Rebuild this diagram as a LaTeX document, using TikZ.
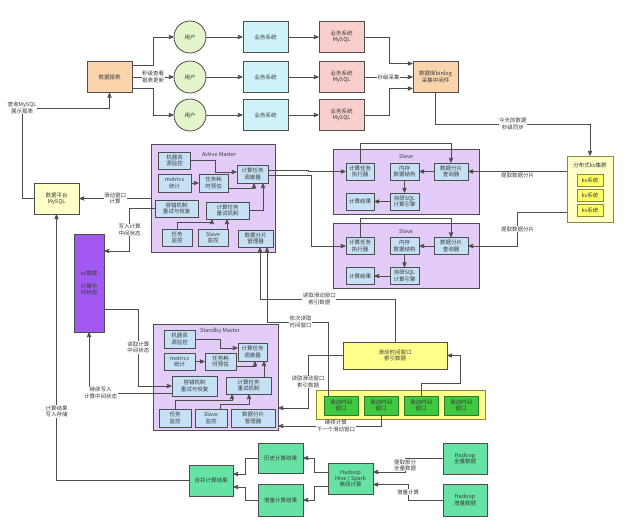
\documentclass[tikz,border=0pt]{standalone}
\usepackage{fontspec}
\setmainfont{Noto Sans CJK SC}
\usetikzlibrary{arrows}
\definecolor{linegray}{HTML}{4D4D4D}
\definecolor{txtgray}{HTML}{3A3A3A}
\definecolor{peach}{HTML}{FAD4AC}
\definecolor{usergreen}{HTML}{E4F5CB}
\definecolor{bizcyan}{HTML}{CDF3F8}
\definecolor{dbpink}{HTML}{F8CFCD}
\definecolor{lavender}{HTML}{E3CCF7}
\definecolor{innerblue}{HTML}{C6E1F6}
\definecolor{zkpurple}{HTML}{A259F2}
\definecolor{paleyellow}{HTML}{FFFFC8}
\definecolor{kvyellow}{HTML}{FFFF66}
\definecolor{olive}{HTML}{8A8A3A}
\definecolor{winyellow}{HTML}{FFFF8C}
\definecolor{wingreen}{HTML}{3EC93E}
\definecolor{wingreenline}{HTML}{2E7D2E}
\definecolor{mint}{HTML}{66E3A4}
\newcommand\fs{\fontsize{5.5}{6.3}\selectfont}

\begin{document}
\begin{tikzpicture}[x=1pt, y=-1pt, >=stealth', line width=0.8pt, draw=linegray,
    every node/.style={font=\fs, text=txtgray, align=center, inner sep=1pt},
    bx/.style 2 args={rectangle, draw=linegray, minimum width=#1pt, minimum height=#2pt},
    ib/.style 2 args={bx={#1}{#2}, fill=innerblue},
    user/.style={circle, draw=linegray, fill=usergreen, minimum size=32pt},
    win/.style={bx={34}{19}, fill=wingreen, draw=wingreenline},
    kvbox/.style={bx={26}{12}, fill=kvyellow, draw=olive},
    lbl/.style={fill=white, inner sep=0.5pt}]
    \useasboundingbox[fill=white] (0,0) rectangle (640,530);

    %define the top row
    \node[bx={45}{31}, fill=peach] (report) at (109.5,77) {数据报表};
    \node[user] (user1) at (190,37) {用户};
    \node[user] (user2) at (190,77) {用户};
    \node[user] (user3) at (190,115) {用户};
    \node[bx={45}{31}, fill=bizcyan] (biz1) at (265.5,37) {业务系统};
    \node[bx={45}{31}, fill=bizcyan] (biz2) at (265.5,77) {业务系统};
    \node[bx={45}{31}, fill=bizcyan] (biz3) at (265.5,115) {业务系统};
    \node[bx={45}{31}, fill=dbpink] (db1) at (341.5,37) {业务系统\\MySQL};
    \node[bx={45}{31}, fill=dbpink] (db2) at (341.5,77) {业务系统\\MySQL};
    \node[bx={45}{31}, fill=dbpink] (db3) at (341.5,115) {业务系统\\MySQL};
    \node[bx={45}{31}, fill=peach] (binlog) at (435.5,77) {数据库binlog\\采集中间件};

    %define the kv cluster
    \node[bx={46}{66}, fill=paleyellow, draw=olive] (kvc) at (590,189) {};
    \node at (590,165) {分布式kv集群};
    \node[kvbox] (kv1) at (590,180) {kv系统};
    \node[kvbox] (kv2) at (590,195) {kv系统};
    \node[kvbox] (kv3) at (590,210) {kv系统};

    %define the slaves
    \node[bx={146}{65}, fill=lavender] (slave1) at (406,181.5) {};
    \node at (406,156) {Slave};
    \node[ib={28}{17}] (exec1) at (360,171.5) {计算任务\\执行器};
    \node[ib={29}{17}] (mem1) at (404.5,171.5) {内存\\数据结构};
    \node[ib={34}{17}] (query1) at (451,171.5) {数据分片\\查询器};
    \node[ib={28}{17}] (result1) at (360,201.5) {计算结果};
    \node[ib={29}{17}] (sql1) at (404.5,201.5) {自研SQL\\计算引擎};
    \node[bx={146}{65}, fill=lavender] (slave2) at (406,256) {};
    \node at (406,231) {Slave};
    \node[ib={28}{17}] (exec2) at (360,246) {计算任务\\执行器};
    \node[ib={29}{17}] (mem2) at (404.5,246) {内存\\数据结构};
    \node[ib={34}{17}] (query2) at (451,246) {数据分片\\查询器};
    \node[ib={28}{17}] (result2) at (360,276) {计算结果};
    \node[ib={29}{17}] (sql2) at (404.5,276) {自研SQL\\计算引擎};

    %define the active master
    \node[bx={124}{108}, fill=lavender] (am) at (213,198) {};
    \node at (219,154) {Active Master};
    \node[ib={32}{17}] (am_res) at (174.5,160.5) {机器资\\源监控};
    \node[ib={33}{18}] (am_met) at (174.5,183) {metrics\\统计};
    \node[ib={29}{18}] (am_est) at (213.5,183) {任务耗\\时预估};
    \node[ib={31}{18}] (am_sch) at (252.5,174) {计算任务\\调度器};
    \node[ib={43}{17}] (am_ft) at (176.5,208.5) {容错机制\\重试与恢复};
    \node[ib={43}{17}] (am_rt) at (227.5,210.5) {计算任务\\重试机制};
    \node[ib={30}{17}] (am_tm) at (177,237.5) {任务\\监控};
    \node[ib={30}{17}] (am_sm) at (213,237.5) {Slave\\监控};
    \node[ib={35}{17}] (am_sh) at (255.5,238.5) {数据分片\\管理器};

    %define the standby master
    \node[bx={125}{106}, fill=lavender] (sb) at (215.5,377) {};
    \node at (220,331) {Standby Master};
    \node[ib={31}{18}] (sb_res) at (179.5,339) {机器资\\源监控};
    \node[ib={31}{17}] (sb_met) at (179.5,361.5) {metrics\\统计};
    \node[ib={31}{17}] (sb_est) at (220.5,361.5) {任务耗\\时预估};
    \node[ib={29}{18}] (sb_sch) at (252.5,352) {计算任务\\调度器};
    \node[ib={45}{20}] (sb_ft) at (194.5,386) {容错机制\\重试与恢复};
    \node[ib={45}{17}] (sb_rt) at (248.5,385.5) {计算任务\\重试机制};
    \node[ib={32}{18}] (sb_tm) at (175,418) {任务\\监控};
    \node[ib={32}{18}] (sb_sm) at (211,418) {Slave\\监控};
    \node[ib={44}{18}] (sb_sh) at (253,418) {数据分片\\管理器};

    %define the left side
    \node[bx={45}{31}, fill=paleyellow] (platform) at (56.5,198.5) {数据平台\\MySQL};
    \node[bx={30}{98}, fill=zkpurple] (zk) at (89,283) {zk集群\\[6pt]计算中\\间状态};

    %define the sliding windows
    \node[bx={104}{27}, fill=winyellow] (idx) at (395,355.5) {滑动时间窗口\\索引数据};
    \node[bx={169}{29}, fill=winyellow, draw=olive] (wc) at (400.5,404.5) {};
    \node[win] (w1) at (341,405.5) {滑动时间\\窗口};
    \node[win] (w2) at (381,405.5) {滑动时间\\窗口};
    \node[win] (w3) at (421,405.5) {滑动时间\\窗口};
    \node[win] (w4) at (461,405.5) {滑动时间\\窗口};

    %define the offline part
    \node[bx={45}{30}, fill=mint] (hist) at (280.5,458) {历史计算结果};
    \node[bx={45}{32}, fill=mint] (incr) at (280.5,500) {增量计算结果};
    \node[bx={44}{31}, fill=mint] (merge) at (211,480.5) {合并计算结果};
    \node[bx={45}{31}, fill=mint] (hive) at (350.5,478.5) {Hadoop\\Hive / Spark\\离线计算};
    \node[bx={44}{31}, fill=mint] (hfull) at (465,458.5) {Hadoop\\全量数据};
    \node[bx={44}{32}, fill=mint] (hinc) at (465,500) {Hadoop\\增量数据};

    %define the links of the top row
    \draw[->] ([yshift=11.5pt]report.east) -- ++(21,0) |- (user1);
    \draw[->] (report) -- node[lbl]{秒级查看\\报表更新} (user2);
    \draw[->] ([yshift=-11.5pt]report.east) -- ++(21,0) |- (user3);
    \path[->] (user1) edge (biz1)
              (user2) edge (biz2)
              (user3) edge (biz3)
              (biz1) edge (db1)
              (biz2) edge (db2)
              (biz3) edge (db3);
    \draw[->] (db1.east) -- ++(25,0) |- ([yshift=13.5pt]binlog.west);
    \draw[->] (db2) -- node[lbl]{秒级采集} (binlog);
    \draw[->] (db3.east) -- ++(25,0) |- ([yshift=-11.5pt]binlog.west);
    \draw[->] (binlog) |- node[lbl, pos=0.75]{今天的数据\\秒级同步} (kvc.north |- 0,124) -- (kvc);

    %define the links of the slaves
    \draw[->] (kvc.west |- query1) -- node[below=0pt]{提取数据分片} (query1);
    \draw[->] (kvc.west |- 0,212) -- ++(-49,0) |- node[lbl, pos=0.25]{提取数据分片} (query2);
    \path[->] (query1) edge (mem1)
              (mem1) edge (sql1)
              (sql1) edge (result1)
              (query2) edge (mem2)
              (mem2) edge (sql2)
              (sql2) edge (result2);
    \draw[->] (exec1.north) -- ++(0,-19) -| (query1.north);
    \draw[->] (exec2.north) -- ++(0,-18.5) -| (query2.north);

    %define the links of the active master
    \draw[->] ([yshift=4pt]am_sch.east) -- ++(40,0) |- (exec1);
    \draw[->] ([yshift=-1pt]am_sch.east) -- ++(43,0) |- (exec2);
    \draw[->] (am_res.east) -| (215,172) -- (am_sch.west |- 0,172);
    \draw[->] (am_met) -- (am_est);
    \draw[->] (am_est.east |- 0,188) -| ([xshift=1.5pt]am_sch.south);
    \draw[->] (am_rt.east) -| ([xshift=10.5pt]am_sch.south);
    \draw[->] (am_tm.north) -- ++(0,-6) -| ([xshift=-15.5pt]am_rt.south);
    \draw[->] (am_sm.north -| 227,0) -- (am_rt.south -| 227,0);
    \draw[->] (am.west |- platform) -- node[lbl]{滑动窗口\\计算} (platform);
    \draw[->] (am_ft.west) -- ++(-25,0) |- node[lbl, pos=0.25]{写入计算\\中间状态} (zk.east |- 0,251);

    %define the links of the standby master
    \draw[->] (zk.east |- 0,309) -- ++(34,0) |- node[lbl, pos=0.25]{读取计算\\中间状态} (sb_ft);
    \draw[->] ([yshift=-7pt]sb_ft.west) -| node[lbl, pos=0.43]{继续写入\\计算中间状态} (zk);
    \draw[->] (sb_res.east) -| (220,348) -- (sb_sch.west |- 0,348);
    \draw[->] (sb_met) -- (sb_est);
    \draw[->] (sb_est.east |- 0,366) -| ([xshift=2.5pt]sb_sch.south);
    \draw[->] (sb_rt.north -| 264,0) -- (sb_sch.south -| 264,0);
    \draw[->] (sb_tm.north) -- ++(0,-8) -| ([xshift=-16.5pt]sb_rt.south);
    \draw[->] ([xshift=9pt]sb_sm.north) -- ++(0,-4) -| ([xshift=0.5pt]sb_rt.south);

    %define the links of the sliding windows
    \coordinate (rdA) at ([xshift=4.5pt]am_sh.south);
    \coordinate (rdB) at ([xshift=11.5pt]am_sh.south);
    \coordinate (wA) at ([xshift=-13pt]w1.north);
    \draw[->] (w3.north) |- (460,383) |- (idx.east);
    \draw[->] (idx.north) |- node[lbl, pos=0.78]{读取滑动窗口\\索引数据} (rdA |- 0,299) -- (rdA);
    \draw[->] (wA) |- node[lbl, pos=0.725]{依次读取\\时间窗口} (rdB |- 0,322) -- (rdB);
    \draw[->] (idx.west) -| node[lbl, pos=0.75]{读取滑动窗口\\索引数据} (308,408) -- (sb.east |- 0,408);
    \draw[->] (w2.south) |- node[lbl, pos=0.72]{继续计算\\下一个滑动窗口} (sb.east |- 0,426);

    %define the links of the offline part
    \draw[->] (hist.west) -- ++(-12,0) |- ([yshift=6.5pt]merge.east);
    \draw[->] (incr.west) -- ++(-12,0) |- ([yshift=-6.5pt]merge.east);
    \draw[->] ([yshift=6.5pt]hive.west) -- ++(-13,0) |- (hist);
    \draw[->] ([yshift=-7.5pt]hive.west) -- ++(-13,0) |- (incr);
    \draw[->] (hfull.west) -- (405,458.5) |- node[lbl, pos=0.25]{提取部分\\全量数据} ([yshift=6.5pt]hive.east);
    \draw[->] (hinc.west) -- (408,500) |- node[lbl, pos=0.25]{增量计算} ([yshift=-6pt]hive.east);
    \draw[->] (merge) -| node[lbl, pos=0.63]{计算结果\\写入存储} (platform);
    \draw[->] (platform.west) -| (22,108) node[lbl]{查询MySQL\\展示报表} -| (report);
\end{tikzpicture}
\end{document}
